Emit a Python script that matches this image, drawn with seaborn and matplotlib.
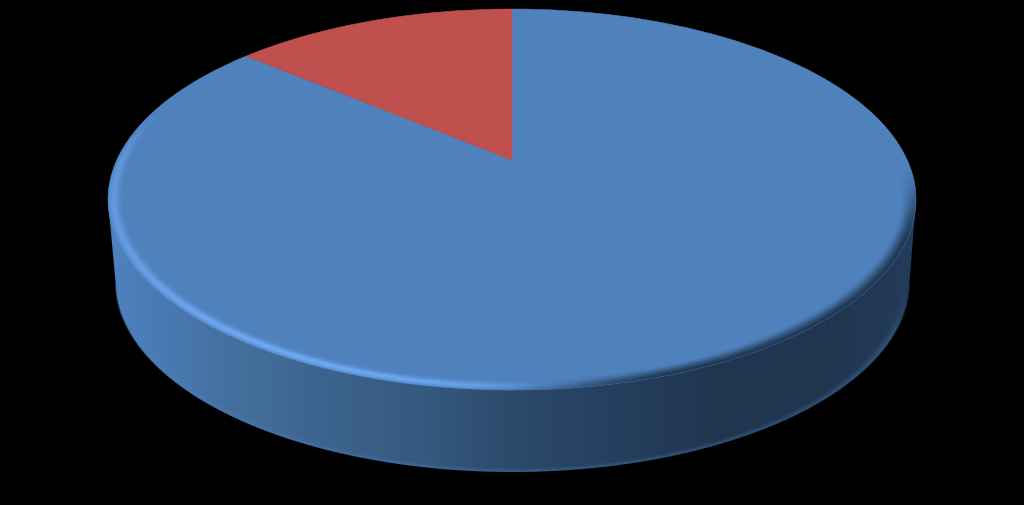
import numpy as np
import matplotlib
matplotlib.use("Agg")
import matplotlib.pyplot as plt
from matplotlib.transforms import Transform
import seaborn as sns

# data
labels = ["Major share", "Minor share"]
shares = [86.2, 13.8]
colors = ["#4f81bd", "#c0504d"]

W, H = 1024, 505
CX, APEX = 512.0, 160.0
UP, DOWN = 151.0, 230.0
C = (DOWN - UP) / (DOWN + UP)
A = UP * (1 + C)
K = 404.0 * np.sqrt(1 - C ** 2)


class Persp(Transform):
    input_dims = output_dims = 2
    is_affine = False
    has_inverse = False

    def transform_non_affine(self, v):
        v = np.asarray(v, float)
        d = 1 + C * v[:, 1]
        return np.column_stack([CX + K * v[:, 0] / d, APEX - A * v[:, 1] / d])


sns.set_theme(style="white", palette=sns.color_palette(colors))
fig = plt.figure(figsize=(W / 100, H / 100), dpi=100, facecolor="black")
ax = fig.add_axes([0, 0, 1, 1], facecolor="black")

xx, yy = np.meshgrid(np.arange(W) + 0.5, np.arange(H) + 0.5)


def smooth(a, lo, hi):
    t = np.clip((a - lo) / (hi - lo), 0, 1)
    return t * t * (3 - 2 * t)


# --- side wall (gradient over x) ---
stops_x = [108, 160, 230, 320, 420, 512, 620, 720, 820, 916]
stops_c = ["#4f82bf", "#4a7ab3", "#44709f", "#3d648f", "#355a81", "#2c4a6b",
           "#253f5e", "#203650", "#203650", "#233c5a"]
rgb = np.array([matplotlib.colors.to_rgb(c) for c in stops_c])
side = np.zeros((H, W, 4))
for i in range(3):
    side[..., i] = np.interp(xx, stops_x, rgb[:, i])

LCX, LCY, LRX, LRY = 512.5, 282.0, 397.0, 190.0
r2 = np.hypot((xx - LCX) / LRX, (yy - LCY) / LRY)
# soft light along the lower edge, fading out toward the sides of the wall
edge = smooth(r2, 0.975, 1.0) * smooth(yy, LCY, LCY + 70)
side[..., :3] = side[..., :3] * (1 - 0.35 * edge[..., None]) + np.array([0.30, 0.50, 0.74]) * 0.35 * edge[..., None]
low_alpha = np.clip((1 - r2) * 190 + 0.5, 0, 1)
xl = 108 + (yy - 200) * 7.5 / 82
xr = 916 - (yy - 200) * 6.5 / 82
band = np.clip(xx - xl + 0.5, 0, 1) * np.clip(xr - xx + 0.5, 0, 1) * (yy >= 200) * (yy <= LCY)
side[..., 3] = np.maximum(low_alpha, band)
ax.imshow(side, extent=(0, W, H, 0), interpolation="bilinear", zorder=1, aspect="auto")

# --- top face: the pie itself ---
wedges, _ = ax.pie(shares, colors=colors, startangle=90, counterclock=False,
                   radius=1, wedgeprops=dict(linewidth=0))
persp = Persp()
for w, col, z in zip(wedges, colors, (2.0, 2.1)):
    w.set_transform(persp + ax.transData)
    w.set_zorder(z)
    w.set_edgecolor(col)
    w.set_linewidth(0.4)

# --- bevel on the rim of the top face ---
Y = APEX - yy
den = A - C * Y
v = Y / den
u = (xx - CX) * (A / den) / K
r = np.hypot(u, v)
ang = np.degrees(np.arctan2(v, u))  # 180 = left, -90 = bottom, 0 = right
turn = np.where(ang > 90, 360 - ang, -ang)  # clockwise from right; left = 180

inside = np.clip((1 - r) * 300 + 0.5, 0, 1)
# highlight on lower-left: from the left extreme to the bottom
hl_ang = smooth(turn, 72, 100) * (1 - smooth(turn, 178, 198))
hl_prof = np.exp(-((r - 0.986) / 0.012) ** 2)
fade = 0.55 + 0.45 * np.exp(-((turn - 118) / 35.0) ** 2)
over_hl = np.zeros((H, W, 4))
over_hl[..., :3] = matplotlib.colors.to_rgb("#6fabf5")
over_hl[..., 3] = np.clip(hl_ang * hl_prof * fade * 0.95, 0, 1) * inside
ax.imshow(over_hl, extent=(0, W, H, 0), interpolation="bilinear", zorder=3, aspect="auto")

# dark falloff on lower-right, soft edge into the wall
ang_d = smooth(turn, 0, 25) * (1 - smooth(turn, 70, 95))
dk_prof = smooth(r, 0.962, 1.0)
over_dk = np.zeros((H, W, 4))
over_dk[..., :3] = matplotlib.colors.to_rgb("#203650")
over_dk[..., 3] = ang_d * dk_prof * inside
ax.imshow(over_dk, extent=(0, W, H, 0), interpolation="bilinear", zorder=4, aspect="auto")

ax.set_xlim(0, W)
ax.set_ylim(H, 0)
ax.set_aspect("auto")
ax.axis("off")
fig.savefig("out.png", dpi=100, facecolor="black")
